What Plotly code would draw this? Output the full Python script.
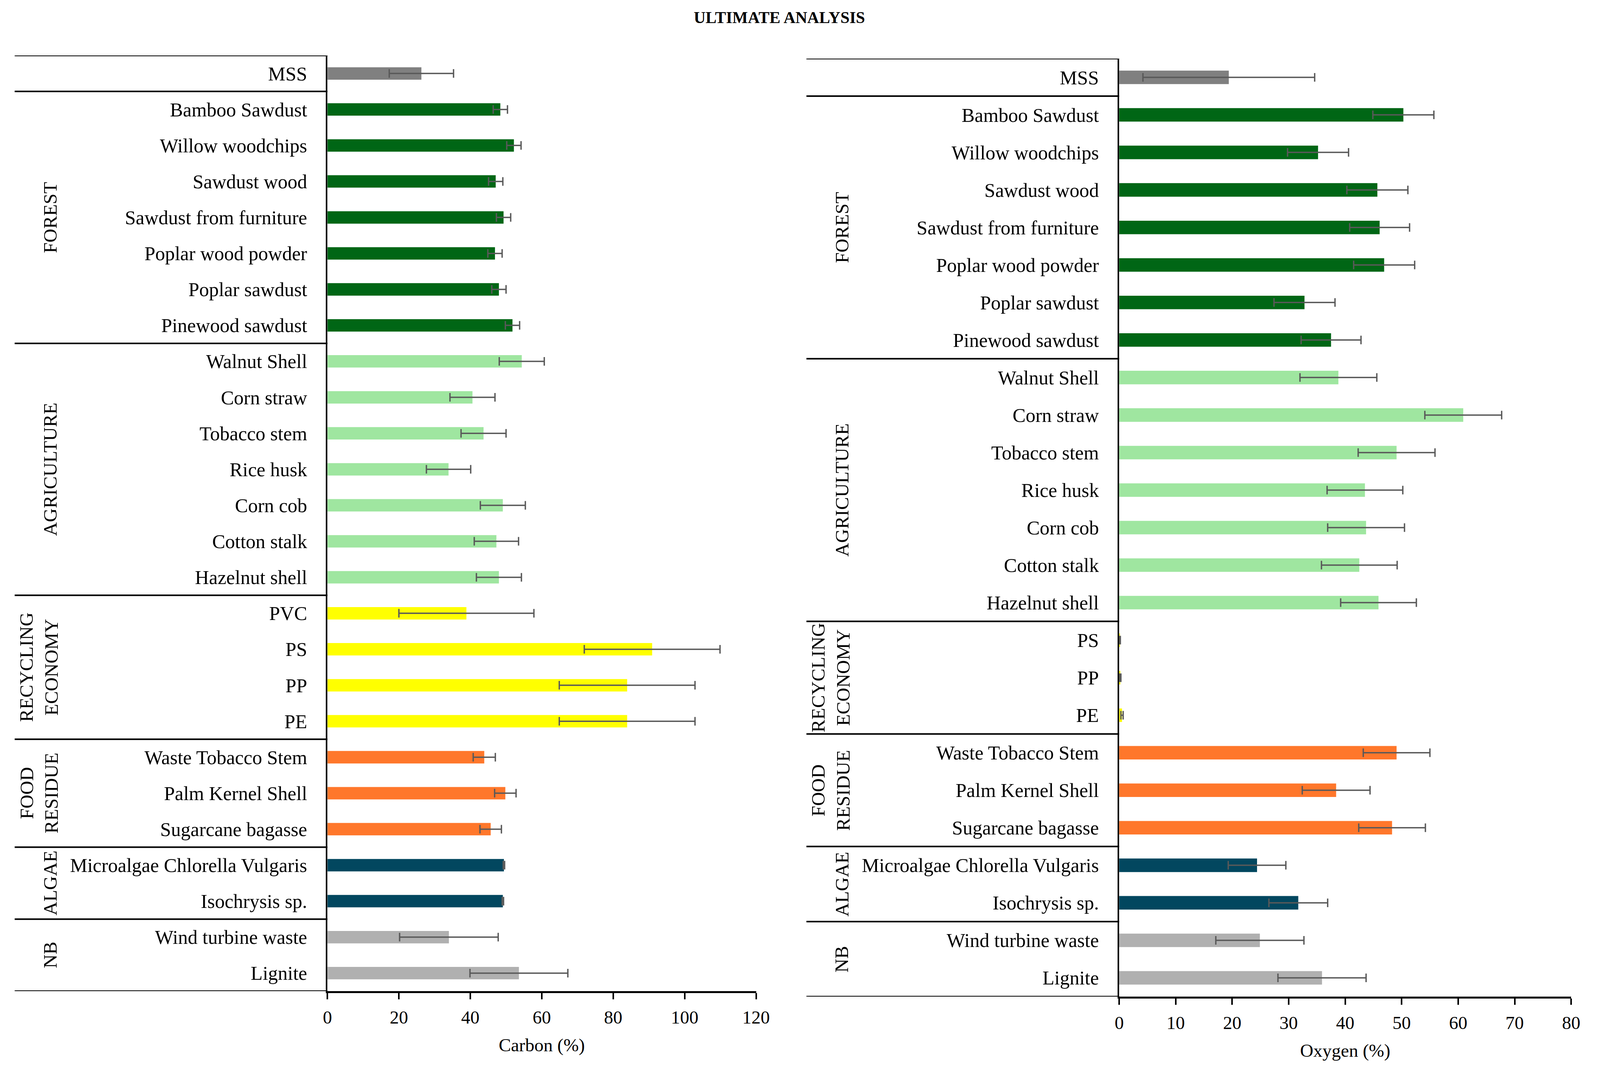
import plotly.graph_objects as go

# reference geometry is measured in a 4273 x 2744 picture; positions are given as
# paper fractions so the figure can be fitted to whatever viewport the browser has
W, H = 4273, 2744
FONT = "Liberation Serif"


def px(x):
    return x / W


def py(y):
    return 1 - y / H


# ---------------- data ----------------
carbon_categories = ["MSS", "Bamboo Sawdust", "Willow woodchips", "Sawdust wood",
                     "Sawdust from furniture", "Poplar wood powder", "Poplar sawdust",
                     "Pinewood sawdust", "Walnut Shell", "Corn straw", "Tobacco stem",
                     "Rice husk", "Corn cob", "Cotton stalk", "Hazelnut shell", "PVC",
                     "PS", "PP", "PE", "Waste Tobacco Stem", "Palm Kernel Shell",
                     "Sugarcane bagasse", "Microalgae Chlorella Vulgaris", "Isochrysis sp.",
                     "Wind turbine waste", "Lignite"]
carbon_values = [26.3, 48.4, 52.2, 47.1, 49.3, 46.9, 48.0, 51.8, 54.4, 40.6, 43.7, 33.9,
                 49.1, 47.3, 48.0, 38.9, 90.9, 83.9, 83.9, 43.9, 49.8, 45.7, 49.4, 49.1,
                 34.0, 53.6]
carbon_errors = [9.0, 2.0, 2.0, 2.0, 2.0, 2.0, 2.0, 2.0, 6.3, 6.3, 6.3, 6.2, 6.3, 6.2,
                 6.3, 18.9, 19.0, 19.0, 19.0, 3.1, 3.0, 3.0, 0.2, 0.2, 13.8, 13.7]

oxygen_categories = ["MSS", "Bamboo Sawdust", "Willow woodchips", "Sawdust wood",
                     "Sawdust from furniture", "Poplar wood powder", "Poplar sawdust",
                     "Pinewood sawdust", "Walnut Shell", "Corn straw", "Tobacco stem",
                     "Rice husk", "Corn cob", "Cotton stalk", "Hazelnut shell",
                     "PS", "PP", "PE", "Waste Tobacco Stem", "Palm Kernel Shell",
                     "Sugarcane bagasse", "Microalgae Chlorella Vulgaris", "Isochrysis sp.",
                     "Wind turbine waste", "Lignite"]
oxygen_values = [19.4, 50.3, 35.2, 45.7, 46.1, 46.9, 32.8, 37.5, 38.8, 60.9, 49.1, 43.5,
                 43.7, 42.5, 45.9, 0.1, 0.2, 0.5, 49.1, 38.4, 48.3, 24.4, 31.7, 24.9, 35.9]
oxygen_errors = [15.2, 5.4, 5.4, 5.4, 5.3, 5.4, 5.4, 5.3, 6.8, 6.8, 6.8, 6.7, 6.8, 6.7,
                 6.7, 0.1, 0.1, 0.2, 5.9, 6.0, 5.9, 5.1, 5.2, 7.8, 7.8]

group_names = ["", "FOREST", "AGRICULTURE", "RECYCLING<br>ECONOMY", "FOOD<br>RESIDUE",
               "ALGAE", "NB"]
group_colors = ["#808080", "#006615", "#9fe6a0", "#ffff00", "#ff772b", "#02475f", "#b0b0b0"]
carbon_group_sizes = [1, 7, 7, 4, 3, 2, 2]
oxygen_group_sizes = [1, 7, 7, 3, 3, 2, 2]

x_tick_carbon = [0, 20, 40, 60, 80, 100, 120]
x_tick_oxygen = [0, 10, 20, 30, 40, 50, 60, 70, 80]

# ---------------- layout geometry (reference pixels) ----------------
panels = [
    dict(cats=carbon_categories, vals=carbon_values, errs=carbon_errors,
         sizes=carbon_group_sizes, ticks=x_tick_carbon, title="Carbon (%)",
         x_left=27, x0=872, x1=2030, y_top=142, y_bot=2537, bw=0.345, xa="x", ya="y"),
    dict(cats=oxygen_categories, vals=oxygen_values, errs=oxygen_errors,
         sizes=oxygen_group_sizes, ticks=x_tick_oxygen, title="Oxygen (%)",
         x_left=2166, x0=3011, x1=4232, y_top=150, y_bot=2551, bw=0.36, xa="x2", ya="y2"),
]

fig = go.Figure()
shapes = []
annotations = []
LINE = dict(color="black", width=4)

for i, p in enumerate(panels):
    colors = []
    for g, n in enumerate(p["sizes"]):
        colors += [group_colors[g]] * n
    fig.add_trace(go.Bar(
        y=p["cats"], x=p["vals"], orientation="h",
        marker=dict(color=colors, line=dict(width=0)),
        width=p["bw"],
        error_x=dict(type="data", array=p["errs"], visible=True,
                     color="#595959", thickness=3.5, width=11),
        xaxis=p["xa"], yaxis=p["ya"], showlegend=False,
    ))
    n = len(p["cats"])
    yref = p["ya"]
    xl = px(p["x_left"])
    x0 = px(p["x0"])
    bounds = [-0.5]
    c = -0.5
    for s in p["sizes"]:
        c += s
        bounds.append(c)
    for b in bounds:
        shapes.append(dict(type="line", xref="paper", yref=yref, x0=xl, x1=x0,
                           y0=b, y1=b, line=LINE, layer="above"))
    start = 0
    for g, s in enumerate(p["sizes"]):
        name = group_names[g]
        if name:
            two = "<br>" in name
            xc = px(p["x_left"] + (66 if two else 96))
            annotations.append(dict(
                text=name, xref="paper", yref=yref, x=xc,
                y=start + (s - 1) / 2, textangle=-90, showarrow=False,
                xanchor="center", yanchor="middle",
                font=dict(family=FONT, size=49, color="black")))
        start += s

    ax_suffix = "" if i == 0 else "2"
    fig.update_layout(**{
        "xaxis" + ax_suffix: dict(
            domain=[px(p["x0"]), px(p["x1"])], anchor=p["ya"],
            range=[p["ticks"][0], p["ticks"][-1]], tickvals=p["ticks"],
            ticks="outside", ticklen=16, tickwidth=4, tickcolor="black",
            showline=True, linecolor="black", linewidth=5, showgrid=False,
            zeroline=False, ticklabelstandoff=6,
            tickfont=dict(family=FONT, size=47, color="black"),
            title=dict(text=p["title"], standoff=30,
                       font=dict(family=FONT, size=47, color="black")),
        ),
        "yaxis" + ax_suffix: dict(
            domain=[py(p["y_bot"]), py(p["y_top"])], anchor=p["xa"],
            type="category", categoryorder="array", categoryarray=p["cats"],
            range=[n - 0.5, -0.5], showline=True, linecolor="black", linewidth=4,
            showgrid=False, zeroline=False, ticks="", ticklabelstandoff=38,
            tickfont=dict(family=FONT, size=50, color="black"),
        ),
    })

annotations.append(dict(text="<b>ULTIMATE ANALYSIS</b>", xref="paper", yref="paper",
                        x=px(2093), y=py(45), showarrow=False,
                        xanchor="center", yanchor="middle",
                        font=dict(family=FONT, size=42, color="black")))

fig.update_layout(
    width=4096, height=2744,
    margin=dict(l=0, r=0, t=0, b=0),
    paper_bgcolor="white", plot_bgcolor="white",
    shapes=shapes, annotations=annotations,
    font=dict(family=FONT),
)

# fit the figure to the actual browser viewport (remove page margin / scrollbars)
post = """
var gd = document.getElementById('{plot_id}');
document.documentElement.style.margin = '0';
document.documentElement.style.overflow = 'hidden';
document.body.style.margin = '0';
document.body.style.overflow = 'hidden';
Plotly.relayout(gd, {width: window.innerWidth, height: window.innerHeight});
"""

fig.write_html("out.html", post_script=post, config={"displayModeBar": False})
